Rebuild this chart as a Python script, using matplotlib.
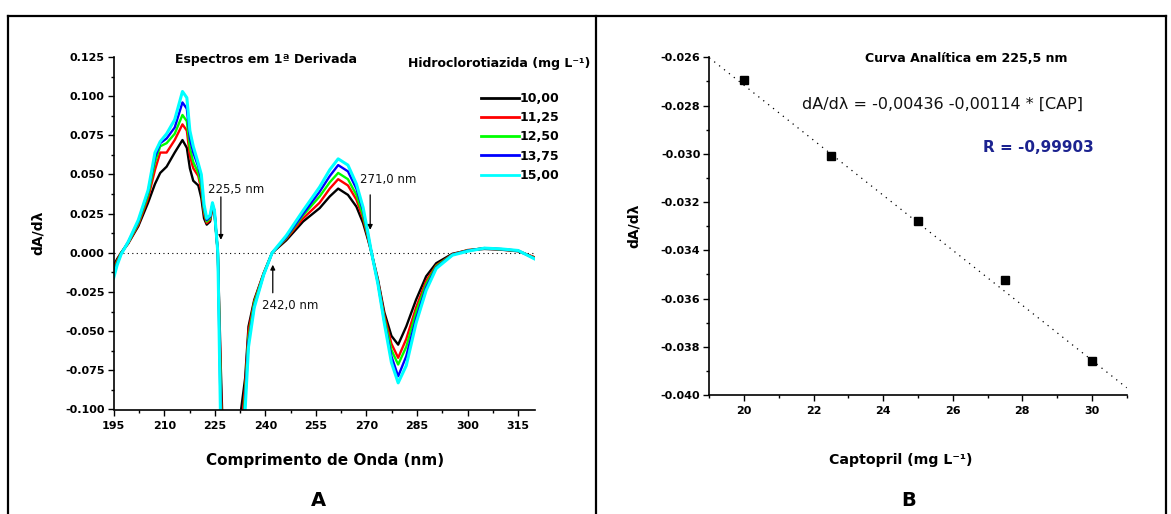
import matplotlib
matplotlib.use("Agg")
import matplotlib.pyplot as plt
from matplotlib.lines import Line2D
from matplotlib.ticker import MultipleLocator, FormatStrFormatter

plt.rcParams['font.family'] = ['DejaVu Sans']
plt.rcParams['axes.unicode_minus'] = False

# ---------------- data (panel A) ----------------
wavelength = [195, 196, 197.2, 199.3, 202.3, 205.2, 207.25, 208.8, 210.7, 213.1,
              215.4, 216.7, 217.6, 218.6, 220.1, 221.0, 221.8, 222.6, 223.6, 224.3,
              224.9, 225.9, 226.8, 228.3, 230.4, 232.8, 234.0, 235.0, 236.7, 239.5,
              242.0, 246.2, 251.2, 256.1, 259.1, 261.6, 264.5, 267.0, 269.0, 270.5,
              271.5, 273.4, 275.3, 277.4, 279.4, 281.8, 284.7, 287.7, 290.7, 295.5,
              300, 305, 310, 315, 320]

hctz_10_00 = [-0.008, -0.004, 0.000, 0.006, 0.017, 0.032, 0.044, 0.051, 0.055, 0.064,
              0.072, 0.067, 0.054, 0.046, 0.043, 0.035, 0.022, 0.018, 0.020, 0.029,
              0.025, 0.000, -0.075, -0.18, -0.22, -0.100, -0.080, -0.047, -0.030, -0.013,
              0.000, 0.008, 0.020, 0.0285, 0.036, 0.041, 0.037, 0.0295, 0.019, 0.008,
              0.000, -0.017, -0.038, -0.053, -0.0586, -0.047, -0.030, -0.015, -0.0066, -0.0006,
              0.0015, 0.0025, 0.002, 0.001, -0.003]

hctz_11_25 = [-0.010, -0.005, 0.000, 0.006, 0.018, 0.035, 0.053, 0.064, 0.064, 0.072,
              0.082, 0.078, 0.062, 0.054, 0.049, 0.040, 0.025, 0.019, 0.021, 0.030,
              0.026, 0.000, -0.085, -0.20, -0.24, -0.115, -0.085, -0.050, -0.031, -0.013,
              0.000, 0.009, 0.022, 0.032, 0.041, 0.047, 0.043, 0.034, 0.022, 0.009,
              0.000, -0.018, -0.040, -0.058, -0.067, -0.055, -0.035, -0.018, -0.008, -0.001,
              0.0018, 0.0028, 0.0022, 0.0012, -0.003]

hctz_12_50 = [-0.012, -0.006, 0.000, 0.0065, 0.019, 0.037, 0.058, 0.068, 0.070, 0.076,
              0.088, 0.084, 0.067, 0.058, 0.051, 0.043, 0.027, 0.020, 0.022, 0.031,
              0.026, 0.000, -0.095, -0.22, -0.26, -0.130, -0.090, -0.054, -0.032, -0.0135,
              0.000, 0.0095, 0.024, 0.036, 0.045, 0.051, 0.047, 0.037, 0.024, 0.010,
              0.000, -0.019, -0.042, -0.062, -0.0713, -0.060, -0.038, -0.020, -0.0085, -0.0012,
              0.0016, 0.003, 0.0023, 0.0013, -0.0035]

hctz_13_75 = [-0.014, -0.007, -0.0005, 0.007, 0.020, 0.039, 0.061, 0.070, 0.073, 0.080,
              0.096, 0.092, 0.073, 0.064, 0.055, 0.047, 0.029, 0.021, 0.023, 0.031,
              0.027, 0.000, -0.110, -0.23, -0.27, -0.145, -0.095, -0.057, -0.034, -0.014,
              0.000, 0.010, 0.025, 0.039, 0.049, 0.056, 0.052, 0.041, 0.027, 0.011,
              0.000, -0.0195, -0.044, -0.066, -0.0788, -0.066, -0.042, -0.022, -0.0093, -0.0013,
              0.0014, 0.003, 0.0024, 0.0014, -0.0038]

hctz_15_00 = [-0.016, -0.008, -0.001, 0.007, 0.021, 0.040, 0.064, 0.071, 0.076, 0.085,
              0.103, 0.099, 0.078, 0.068, 0.057, 0.050, 0.031, 0.022, 0.024, 0.032,
              0.027, 0.000, -0.120, -0.25, -0.28, -0.160, -0.100, -0.060, -0.035, -0.014,
              0.000, 0.011, 0.027, 0.042, 0.053, 0.060, 0.056, 0.044, 0.029, 0.012,
              0.000, -0.020, -0.045, -0.070, -0.083, -0.072, -0.045, -0.024, -0.010, -0.0015,
              0.001, 0.003, 0.0025, 0.0015, -0.004]

series_labels = ['10,00', '11,25', '12,50', '13,75', '15,00']
series_colors = ['#000000', '#ff0000', '#00ff00', '#0000ff', '#00ffff']

# ---------------- data (panel B) ----------------
captopril = [20.0, 22.5, 25.0, 27.5, 30.0]
dA_225 = [-0.02695, -0.03009, -0.03277, -0.03525, -0.03858]
fit_intercept = -0.00436
fit_slope = -0.00114
fit_range = [19.0, 31.0]

# ---------------- figure ----------------
W, H = 1171, 514
fig = plt.figure(figsize=(W / 100, H / 100), dpi=100)

def fx(px):
    return px / W

def fy(py):
    return 1 - py / H

# outer frame lines
frame_kw = dict(color='black', lw=1.6, transform=fig.transFigure)
fig.add_artist(Line2D([fx(8), fx(1166)], [fy(16), fy(16)], **frame_kw))
for xp in (8, 596, 1166):
    fig.add_artist(Line2D([fx(xp), fx(xp)], [fy(16), fy(514)], **frame_kw))

def style_axes(ax):
    for s in ('top', 'right'):
        ax.spines[s].set_visible(False)
    for s in ('left', 'bottom'):
        ax.spines[s].set_linewidth(1.2)
    ax.tick_params(which='major', direction='out', length=4, width=1.0, pad=2.5)
    ax.tick_params(which='minor', direction='out', length=2.5, width=1.0)
    ax.tick_params(axis='x', which='major', pad=4)
    for lab in ax.get_xticklabels() + ax.get_yticklabels():
        lab.set_fontweight('bold')
        lab.set_fontsize(8)

# ---------------- panel A ----------------
axA = fig.add_axes([fx(113.7), fy(409.5), fx(535) - fx(113.7), fy(57) - fy(409.5)])
axA.set_xlim(195, 320)
axA.set_ylim(-0.100, 0.125)
axA.axhline(0, color='black', lw=0.8, ls=(0, (1, 3)))
series = [hctz_10_00, hctz_11_25, hctz_12_50, hctz_13_75, hctz_15_00]
handles = []
for vals, lab, col in zip(series, series_labels, series_colors):
    lw = 2.2 if col == '#00ffff' else 1.7
    h, = axA.plot(wavelength, vals, color=col, lw=lw, label=lab)
    handles.append(h)
axA.xaxis.set_major_locator(MultipleLocator(15))
axA.xaxis.set_minor_locator(MultipleLocator(7.5))
axA.yaxis.set_major_locator(MultipleLocator(0.025))
axA.yaxis.set_minor_locator(MultipleLocator(0.0125))
axA.yaxis.set_major_formatter(FormatStrFormatter('%.3f'))
style_axes(axA)

arrow_kw = dict(arrowstyle='-|>', lw=0.9, color='black', mutation_scale=7, shrinkA=0, shrinkB=0)
axA.annotate('', xy=(226.8, 0.0083), xytext=(226.8, 0.0357), arrowprops=arrow_kw)
axA.annotate('', xy=(271.1, 0.0147), xytext=(271.1, 0.037), arrowprops=arrow_kw)
axA.annotate('', xy=(242.2, -0.0076), xytext=(242.2, -0.0255), arrowprops=arrow_kw)
ann_font = dict(fontsize=8.5, color='#111111')
fig.text(fx(208), fy(189), '225,5 nm', ha='left', va='center', **ann_font)
fig.text(fx(360), fy(180), '271,0 nm', ha='left', va='center', **ann_font)
fig.text(fx(262), fy(305), '242,0 nm', ha='left', va='center', **ann_font)

leg = axA.legend(handles=handles, loc='upper left', frameon=False,
                 bbox_to_anchor=(fx(481), fy(92)), bbox_transform=fig.transFigure,
                 borderpad=0, borderaxespad=0, handlelength=3.0, handletextpad=0.05,
                 labelspacing=0.5, prop=dict(size=9, weight='bold'))
for ln in leg.get_lines():
    ln.set_linewidth(2.0)

fig.text(fx(266), fy(59), 'Espectros em 1ª Derivada', ha='center', va='center',
         fontsize=9, fontweight='bold')
fig.text(fx(499), fy(63), 'Hidroclorotiazida (mg L⁻¹)', ha='center', va='center',
         fontsize=9, fontweight='bold')
fig.text(fx(325), fy(460), 'Comprimento de Onda (nm)', ha='center', va='center',
         fontsize=11, fontweight='bold')
fig.text(fx(38), fy(233), 'dA/dλ', ha='center', va='center', rotation=90,
         fontsize=10, fontweight='bold')
fig.text(fx(318), fy(500), 'A', ha='center', va='center', fontsize=14, fontweight='bold')

# ---------------- panel B ----------------
axB = fig.add_axes([fx(709.3), fy(395), fx(1126.7) - fx(709.3), fy(57.3) - fy(395)])
axB.set_xlim(19, 31)
axB.set_ylim(-0.040, -0.026)
fit_y = [fit_intercept + fit_slope * x for x in fit_range]
axB.plot(fit_range, fit_y, color='black', lw=0.9, ls=(0, (1, 4)))
axB.plot(captopril, dA_225, ls='none', marker='s', ms=6, color='black')
axB.xaxis.set_major_locator(MultipleLocator(2))
axB.xaxis.set_minor_locator(MultipleLocator(1))
axB.yaxis.set_major_locator(MultipleLocator(0.002))
axB.yaxis.set_minor_locator(MultipleLocator(0.001))
axB.yaxis.set_major_formatter(FormatStrFormatter('%.3f'))
style_axes(axB)

fig.text(fx(966), fy(58), 'Curva Analítica em 225,5 nm', ha='center', va='center',
         fontsize=9, fontweight='bold')
fig.text(fx(943), fy(104), 'dA/dλ = -0,00436 -0,00114 * [CAP]', ha='center', va='center',
         fontsize=11.5, color='#111111')
fig.text(fx(1038), fy(147), 'R = -0,99903', ha='center', va='center',
         fontsize=11, fontweight='bold', color='#1c2390')
fig.text(fx(901), fy(460), 'Captopril (mg L⁻¹)', ha='center', va='center',
         fontsize=10.2, fontweight='bold')
fig.text(fx(634), fy(226), 'dA/dλ', ha='center', va='center', rotation=90,
         fontsize=10, fontweight='bold')
fig.text(fx(909), fy(500), 'B', ha='center', va='center', fontsize=14, fontweight='bold')

fig.savefig('out.png', dpi=100)
